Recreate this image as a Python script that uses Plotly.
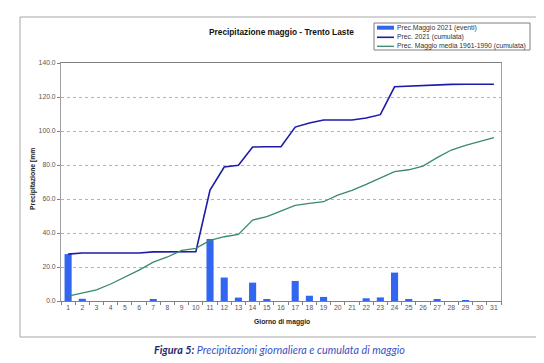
import plotly.graph_objects as go

days = [str(d) for d in range(1, 32)]
daily = [27.6, 1.3, 0, 0, 0, 0, 1.1, 0, 0, 0, 36.5, 13.8, 2.0, 10.8, 0.7, 0,
         11.8, 3.1, 2.4, 0, 0, 1.6, 2.1, 16.7, 0.6, 0, 0.6, 0, 0.5, 0, 0]
cum2021 = [27.6, 28.2, 28.2, 28.2, 28.2, 28.2, 28.9, 28.9, 28.9, 29.0, 65.2, 78.8,
           79.8, 90.6, 90.7, 90.7, 102.3, 104.7, 106.5, 106.5, 106.5, 107.6, 109.6,
           126.0, 126.4, 126.5, 127.3, 127.4, 127.5, 127.5, 127.5]
clim = [2.9, 4.7, 6.6, 10.0, 14.1, 18.2, 22.9, 25.9, 29.8, 31.0, 35.7, 37.8, 39.2,
        47.6, 49.6, 52.8, 56.2, 57.4, 58.4, 62.3, 65.1, 68.6, 72.5, 76.1, 77.2,
        79.4, 84.3, 88.8, 91.5, 93.9, 96.1]
names = ["Prec.Maggio 2021 (eventi)", "Prec. 2021 (cumulata)",
         "Prec. Maggio media 1961-1990 (cumulata)"]

BAR_C = "#3366f0"
NAVY = "#1c1ca8"
GREEN = "#3a8a6a"
FONT = "Liberation Sans"

W, H = 544, 363
L, R, T, B = 53, 493, 55, 293


def fx(px):
    return (px - L) / (R - L)


def fy(py):
    return (B - py) / (B - T)


fig = go.Figure()
fig.add_trace(go.Bar(x=days, y=daily, marker=dict(color=BAR_C, line=dict(width=0)),
                     name=names[0], showlegend=False))
fig.add_trace(go.Scatter(x=days, y=cum2021, mode="lines", line=dict(color=NAVY, width=1.6),
                         name=names[1], showlegend=False))
fig.add_trace(go.Scatter(x=days, y=clim, mode="lines", line=dict(color=GREEN, width=1.3),
                         name=names[2], showlegend=False))

shapes = []
annotations = []
# outer frame
shapes.append(dict(type="rect", xref="paper", yref="paper", x0=fx(12), x1=fx(531),
                   y0=fy(329), y1=fy(9), line=dict(color="#a6a6a6", width=1), layer="below"))
# legend box
shapes.append(dict(type="rect", xref="paper", yref="paper", x0=fx(366), x1=fx(522),
                   y0=fy(42), y1=fy(15), line=dict(color="#7f7f7f", width=1),
                   fillcolor="white"))
leg_y = [19.7, 29.3, 38.3]
shapes.append(dict(type="rect", xref="paper", yref="paper", x0=fx(369), x1=fx(386),
                   y0=fy(leg_y[0] + 2), y1=fy(leg_y[0] - 2), line=dict(width=0),
                   fillcolor=BAR_C))
shapes.append(dict(type="line", xref="paper", yref="paper", x0=fx(369), x1=fx(386),
                   y0=fy(leg_y[1]), y1=fy(leg_y[1]), line=dict(color=NAVY, width=1.6)))
shapes.append(dict(type="line", xref="paper", yref="paper", x0=fx(369), x1=fx(386),
                   y0=fy(leg_y[2]), y1=fy(leg_y[2]), line=dict(color=GREEN, width=1.3)))
for nm, yy in zip(names, leg_y):
    annotations.append(dict(text=nm, xref="paper", yref="paper", x=fx(387), y=fy(yy),
                            xanchor="left", yanchor="middle", showarrow=False,
                            font=dict(family=FONT, size=6.8, color="#333333")))

# title
annotations.append(dict(text="<b>Precipitazione maggio - Trento Laste</b>", xref="paper",
                        yref="paper", x=fx(273), y=fy(24), xanchor="center", yanchor="middle",
                        showarrow=False, font=dict(family=FONT, size=8.3, color="#111111")))
# axis titles
annotations.append(dict(text="<b>Precipitazione [mm</b>", xref="paper", yref="paper",
                        x=fx(25), y=fy(171), textangle=-90, xanchor="center",
                        yanchor="middle", showarrow=False,
                        font=dict(family=FONT, size=6.8, color="#222222")))
annotations.append(dict(text="<b>Giorno di maggio</b>", xref="paper", yref="paper",
                        x=fx(274), y=fy(314), xanchor="center", yanchor="middle",
                        showarrow=False, font=dict(family=FONT, size=6.8, color="#222222")))
# caption
annotations.append(dict(
    text="<i><b><span style='color:#1f2a6e'>Figura 5:</span></b> Precipitazioni giornaliera e cumulata di maggio</i>",
    xref="paper", yref="paper", x=fx(271), y=fy(341), xanchor="center", yanchor="middle",
    showarrow=False, font=dict(family="Lato", size=10.8, color="#3a50c8")))

fig.update_layout(
    width=W, height=H,
    margin=dict(l=L, r=W - R, t=T, b=H - B, autoexpand=False),
    paper_bgcolor="white", plot_bgcolor="white",
    bargap=0.5,
    showlegend=False,
    shapes=shapes, annotations=annotations,
    font=dict(family=FONT, size=6.5, color="#555555"),
)
fig.update_xaxes(type="category", tickson="boundaries", ticks="outside", ticklen=3,
                 tickangle=0,
                 tickcolor="#808080", showline=True, linecolor="#808080", linewidth=1,
                 mirror=True, showgrid=False, tickfont=dict(size=6.8, color="#555555"))
fig.update_yaxes(range=[0, 140], dtick=20, tickformat=".1f", ticks="outside", ticklen=3,
                 tickcolor="#808080", showline=True, linecolor="#a0a0a0", linewidth=1,
                 mirror=True, showgrid=True, gridcolor="#b4b4b4", griddash="dot",
                 gridwidth=0.8, zeroline=False, tickfont=dict(size=6.8, color="#555555"))

fig.write_html("out.html")
